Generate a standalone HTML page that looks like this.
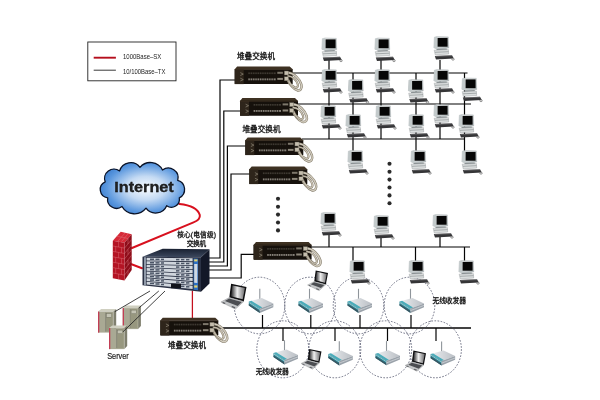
<!DOCTYPE html>
<html lang="zh"><head><meta charset="utf-8"><title>Network topology</title>
<style>
html,body{margin:0;padding:0;background:#fff;}
body{width:600px;height:400px;overflow:hidden;}
svg{display:block;filter:blur(0.38px)}
text{font-family:"Liberation Sans","Noto Sans CJK SC",sans-serif;fill:#222}
.cj{font-size:7.6px;fill:#161616;stroke:#161616;stroke-width:0.3}
.ln{stroke:#050505;stroke-width:1.2;fill:none}
.rd{stroke:#d8101e;stroke-width:2;fill:none;stroke-linecap:round}
.ds{stroke:#4a4e66;stroke-width:0.8;fill:none;stroke-dasharray:1.6 1.5}
</style></head><body>
<svg width="600" height="400" viewBox="0 0 600 400">
<defs>
<linearGradient id="gMon" x1="0" y1="0" x2="1" y2="1"><stop offset="0" stop-color="#f2f4f4"/><stop offset="1" stop-color="#aeb6b8"/></linearGradient>
<radialGradient id="gCloud" cx="0.54" cy="0.5" r="0.58"><stop offset="0" stop-color="#fbfdff"/><stop offset="0.4" stop-color="#c4daf3"/><stop offset="0.8" stop-color="#5a97de"/><stop offset="1" stop-color="#3b7dce"/></radialGradient>
<linearGradient id="gScr" x1="0" y1="0" x2="1" y2="0"><stop offset="0" stop-color="#1c1c1e"/><stop offset="0.45" stop-color="#f0f0f0"/><stop offset="1" stop-color="#6a6a6c"/></linearGradient>
<linearGradient id="gTop" x1="0" y1="0" x2="0" y2="1"><stop offset="0" stop-color="#182030"/><stop offset="1" stop-color="#3c485e"/></linearGradient>
<linearGradient id="gAp" x1="0" y1="0" x2="1" y2="0"><stop offset="0" stop-color="#eef0f2"/><stop offset="1" stop-color="#b9bec4"/></linearGradient>

<g id="pc">
 <path d="M1.4 1.2 L4.4 0.5 L15.3 0.9 L15.7 12 L4.6 13 L0.9 11.8 Z" fill="url(#gMon)" stroke="#959c9e" stroke-width="0.4"/>
 <path d="M1.4 1.2 L4.4 0.5 L4.6 13 L0.9 11.8 Z" fill="#c3cacb"/>
 <rect x="4.6" y="1.9" width="10" height="8.8" fill="#060606"/>
 <path d="M3.4 13 L13.6 12.6 L14 14 L3.8 14.4 Z" fill="#8d9496"/>
 <path d="M1.2 14.2 L15.4 13.6 L15.7 18 L2.2 18.8 Z" fill="#dcdfdf" stroke="#8a9092" stroke-width="0.4"/>
 <path d="M2 16.3 L15.5 15.7" stroke="#7e8486" stroke-width="0.6"/>
 <path d="M1.8 19.9 L19 19.2 L20.8 22.4 L3 23.6 Z" fill="#353537"/>
 <path d="M2.4 20.4 L19 19.7" stroke="#8a8a8c" stroke-width="0.5"/>
 <ellipse cx="20" cy="23.2" rx="1.3" ry="1" fill="#e6e6e6" stroke="#4c4c4c" stroke-width="0.5"/>
</g>

<g id="sw">
 <path d="M0 3.3 L2.4 0.4 L55 0.4 L58 3.3 Z" fill="#3e3122"/>
 <rect x="0" y="3.2" width="58" height="14.9" rx="0.6" fill="#16110c"/>
 <rect x="0" y="3.2" width="9" height="14.9" fill="#2e251b"/>
 <rect x="0" y="3.2" width="58" height="0.8" fill="#3a2e20"/>
 <rect x="13.6" y="6.4" width="27.4" height="1.7" fill="#3f3a33"/>
 <rect x="13.6" y="12.4" width="27.4" height="1.9" fill="#87827a"/>
 <path d="M15.6 5.6V15M17.9 5.6V15M20.2 5.6V15M22.5 5.6V15M24.8 5.6V15M27.1 5.6V15M29.4 5.6V15M31.7 5.6V15M34 5.6V15M36.3 5.6V15M38.6 5.6V15" stroke="#16110c" stroke-width="0.7"/>
 <rect x="42.6" y="5.8" width="5.6" height="2" fill="#7d776b"/>
 <rect x="42.6" y="11.9" width="5.6" height="2" fill="#8d877b"/>
 <path d="M5.6 6.6 l3 1.5 l-3 1.4 M5.6 12.2 l3 1.4 l-3 1.4" stroke="#8c8576" stroke-width="0.7" fill="none"/>
 <g fill="none" stroke-linecap="round">
  <path d="M53 6.6 C59.4 7 64.8 12.8 66.6 18.4 C67.8 22.4 65.6 25.2 62.4 24.2 C58.6 22.8 54.4 18 53 13.6" stroke="#857d6c" stroke-width="2.5"/>
  <path d="M53 6.6 C59.4 7 64.8 12.8 66.6 18.4 C67.8 22.4 65.6 25.2 62.4 24.2 C58.6 22.8 54.4 18 53 13.6" stroke="#d2ccbe" stroke-width="1.4"/>
  <path d="M53.4 10 C57.6 10 61.6 13.8 63 18 C63.9 21 62.2 22.4 59.8 21.3 C57 19.8 54.5 16.5 53.6 14" stroke="#857d6c" stroke-width="2.2"/>
  <path d="M53.4 10 C57.6 10 61.6 13.8 63 18 C63.9 21 62.2 22.4 59.8 21.3 C57 19.8 54.5 16.5 53.6 14" stroke="#cbc4b5" stroke-width="1.1"/>
 </g>
 <rect x="49.6" y="5" width="4.2" height="4" fill="#c4bdad" stroke="#5d574b" stroke-width="0.4"/>
 <rect x="49.6" y="10.8" width="4.2" height="4" fill="#c4bdad" stroke="#5d574b" stroke-width="0.4"/>
</g>

<g id="ap">
 <path d="M11 -9.2 V2" stroke="#8f959b" stroke-width="1.1"/>
 <path d="M0 3.5 L13 0 L24.5 5.5 L11 10.5 Z" fill="url(#gAp)"/>
 <path d="M0 3.5 L2.6 2.8 L13.6 9.6 L11 10.5 Z" fill="#49acba"/>
 <path d="M0 3.5 L11 10.5 L11 15 L0 7.6 Z" fill="#2a8494"/>
 <path d="M0 5.9 L11 13.1 L11 15 L0 7.6 Z" fill="#3b5560"/>
 <path d="M0.4 4.6 L10.8 11.4" stroke="#bfe6ea" stroke-width="0.7"/>
 <path d="M11 10.5 L24.5 5.5 L24.5 9.2 L11 15 Z" fill="#9aa2aa"/>
 <path d="M11 12.6 L24.5 7.4" stroke="#c9ced3" stroke-width="0.9"/>
</g>

<g id="lap">
 <path d="M10.6 0.3 L26 3.5 L23.3 18 L8.8 14 Z" fill="#0e0e10"/>
 <path d="M12 2 L24.4 4.6 L22.2 15.8 L10.4 12.7 Z" fill="url(#gScr)"/>
 <path d="M8.8 14 L23.3 18 L14.9 25.6 L0.4 18.5 Z" fill="#c4c6c8" stroke="#808284" stroke-width="0.4"/>
 <path d="M8.6 15.1 L21.4 18.6 L17.2 22.4 L4.4 17.6 Z" fill="#4c4e52"/>
 <path d="M2.6 18.6 L5.2 19.6 L4.2 20.5 L1.6 19.4 Z M11.8 22.6 L15 23.8 L14 24.8 L10.8 23.5 Z" fill="#5c5e62"/>
</g>

<g id="srv">
 <path d="M0 2.6 L3.2 0 L18.2 0 L15.4 2.6 Z" fill="#cfcfc0"/>
 <path d="M15.4 2.6 L18.2 0 L18.2 20.6 L15.4 23.6 Z" fill="#7f7f6e"/>
 <rect x="0" y="2.6" width="15.4" height="21" fill="#a9a994"/>
 <rect x="0" y="2.6" width="1.3" height="21" fill="#c23e55"/>
 <rect x="7.6" y="3.6" width="7" height="19" fill="#97977f"/>
 <rect x="8.4" y="4.6" width="5.2" height="3.6" fill="#c4c4b4" stroke="#6c6c5c" stroke-width="0.4"/>
 <path d="M7.6 3.6 V22.6" stroke="#77776a" stroke-width="0.5"/>
</g>
</defs>
<rect width="600" height="400" fill="#fff"/>

<rect x="87.8" y="42" width="88.2" height="38.8" fill="#fff" stroke="#222" stroke-width="0.9"/>
<path d="M93.7 57.7 H115.9" stroke="#b50f1d" stroke-width="1.9"/>
<path d="M93.7 70.2 H115.9" stroke="#222" stroke-width="0.9"/>
<text x="123" y="58.9" font-size="6.9" textLength="38.3" lengthAdjust="spacingAndGlyphs">1000Base–SX</text>
<text x="123" y="73.7" font-size="6.9" textLength="42.4" lengthAdjust="spacingAndGlyphs">10/100Base–TX</text>
<g class="ln">
<path d="M292 73 H467.5 M297 104 H471 M302 139 H465 M310 247 H470"/>
<path d="M217 328 H471" style="stroke-width:1.35"/>
<path d="M329 60 V139"/>
<path d="M381 60 V139"/>
<path d="M440 60 V139"/>
<path d="M353 73 V152"/>
<path d="M416 73 V152"/>
<path d="M464.5 73 V152"/>
<path d="M329 234 V247 M381 238 V247 M440 236 V247 M353 247 V262 M415.5 247 V262 M464.5 247 V262"/>
<path d="M262.5 315 V328 M310.8 315 V328 M360 315 V328 M411 315 V328"/>
<path d="M283 328 V341 M335 328 V341 M387.5 328 V341 M436 328 V341"/>
<path d="M235 80 H220 V258 H209"/>
<path d="M241 111 H223.8 V262 H209"/>
<path d="M246 146 H227.4 V266 H209"/>
<path d="M250 174 H231 V270 H209"/>
<path d="M254 254.4 H241.2 V278 H209"/>
</g>
<g class="ds">
<ellipse cx="259.5" cy="305.5" rx="25.3" ry="28.3"/>
<ellipse cx="310" cy="305.5" rx="25.3" ry="28.3"/>
<ellipse cx="358.5" cy="305.5" rx="25.3" ry="28.3"/>
<ellipse cx="409.5" cy="305.5" rx="25.3" ry="28.3"/>
<ellipse cx="282.8" cy="349.3" rx="26" ry="28.5"/>
<ellipse cx="334.8" cy="349.3" rx="26" ry="28.5"/>
<ellipse cx="385.7" cy="349.3" rx="26" ry="28.5"/>
<ellipse cx="435.4" cy="349.3" rx="26" ry="28.5"/>
</g>
<path class="rd" d="M179.5 204 C190 205 198 209 199.8 215 C200.5 219 197 221 193.5 222.4 L132 248"/>
<path class="rd" d="M131.5 264.3 L142 268.2"/>
<path class="rd" d="M192.4 291 V318" style="stroke-width:1.25;stroke:#c4101e"/>
<path d="M105.2 181.8 A9.4 9.4 0 0 1 119.6 170.9 A11.6 11.6 0 0 1 140 167.3 A13.6 13.6 0 0 1 162.5 170 A9.7 9.7 0 0 1 177.7 180.3 A9.4 9.4 0 0 1 179.3 197.8 A8 8 0 0 1 166.7 205.7 A12 12 0 0 1 146 208.2 A14.5 14.5 0 0 1 122 206.5 A9 9 0 0 1 107.7 197.8 A8.4 8.4 0 0 1 105.2 181.8 Z" fill="url(#gCloud)" stroke="#0a1226" stroke-width="1.3" stroke-linejoin="round"/>
<text x="114.2" y="191.7" font-size="15.2" font-weight="bold" fill="#050505" stroke="#050505" stroke-width="0.3" textLength="59.6" lengthAdjust="spacingAndGlyphs">Internet</text>
<g>
<path d="M112.8 240.7 L120.7 231.7 L131.7 234.3 L124.5 242.7 Z" fill="#d62a38"/>
<path d="M124.5 242.7 L131.7 234.3 L131.7 270 L124.5 280.5 Z" fill="#8e0d1a"/>
<path d="M112.8 240.7 L124.5 242.7 L124.5 280.5 L112.8 278.2 Z" fill="#b41424"/>
<g stroke="#e38088" stroke-width="0.4" fill="none">
<path d="M112.8 246 L124.5 248.1 L131.7 239.5 M112.8 251.4 L124.5 253.5 L131.7 244.7 M112.8 256.8 L124.5 258.9 L131.7 249.9 M112.8 262.2 L124.5 264.3 L131.7 255.1 M112.8 267.6 L124.5 269.7 L131.7 260.3 M112.8 273 L124.5 275.1 L131.7 265.5"/>
<path d="M118.6 241.7 V247 M115.7 246.5 V251.9 M121.6 247.6 V253 M118.6 252.4 V257.8 M115.7 257.3 V262.7 M121.6 258.4 V263.8 M118.6 263.2 V268.6 M115.7 268.1 V273.5 M121.6 269.2 V274.6 M118.6 274 V279.4"/>
<path d="M116.7 236.2 L128.1 238.5 M121.5 241.6 L128.8 232.9 M118 241 L125 233"/>
<path d="M128 238.6 V244 M128 249.4 V254.6 M128 260 V265.2 M128 270.4 V275.4"/>
</g></g>
<g>
<path d="M142.5 256.8 L162.7 248.7 L209.5 249.3 L201 257.2 Z" fill="url(#gTop)"/>
<path d="M201 257.2 L209.5 249.3 L209.5 283.5 L201 291.7 Z" fill="#131828"/>
<path d="M142.5 256.8 L201 257.2 L201 291.7 L142.5 285.2 Z" fill="#2a3144"/>
<path d="M144 257.2 L146 257.2 L146 285.6 L144 285.4 Z" fill="#8f99a8"/>
<g fill="#cfd5dc">
<path d="M146.6 257.80 L192.6 258.20 L192.6 261.30 L146.6 260.50 Z"/>
<path d="M146.6 261.22 L192.6 262.15 L192.6 265.25 L146.6 263.92 Z"/>
<path d="M146.6 264.64 L192.6 266.10 L192.6 269.20 L146.6 267.34 Z"/>
<path d="M146.6 268.06 L192.6 270.05 L192.6 273.15 L146.6 270.76 Z"/>
<path d="M146.6 271.48 L192.6 274.00 L192.6 277.10 L146.6 274.18 Z"/>
<path d="M146.6 274.90 L192.6 277.95 L192.6 281.05 L146.6 277.60 Z"/>
<path d="M146.6 278.32 L192.6 281.90 L192.6 285.00 L146.6 281.02 Z"/>
<path d="M146.6 281.74 L192.6 285.85 L192.6 288.95 L146.6 284.44 Z"/>
</g><g fill="#4b5566">
<rect x="150" y="258.54" width="4" height="1.5"/>
<rect x="155.5" y="258.60" width="4" height="1.5"/>
<rect x="161" y="258.66" width="3" height="1.5"/>
<rect x="176" y="258.82" width="3.4" height="1.5"/>
<rect x="181" y="258.87" width="3.4" height="1.5"/>
<rect x="186" y="258.93" width="3.4" height="1.5"/>
<rect x="150" y="262.00" width="4" height="1.5"/>
<rect x="155.5" y="262.12" width="4" height="1.5"/>
<rect x="161" y="262.24" width="3" height="1.5"/>
<rect x="176" y="262.58" width="3.4" height="1.5"/>
<rect x="181" y="262.69" width="3.4" height="1.5"/>
<rect x="186" y="262.80" width="3.4" height="1.5"/>
<rect x="150" y="265.46" width="4" height="1.5"/>
<rect x="155.5" y="265.64" width="4" height="1.5"/>
<rect x="161" y="265.83" width="3" height="1.5"/>
<rect x="176" y="266.34" width="3.4" height="1.5"/>
<rect x="181" y="266.51" width="3.4" height="1.5"/>
<rect x="186" y="266.68" width="3.4" height="1.5"/>
<rect x="150" y="268.91" width="4" height="1.5"/>
<rect x="155.5" y="269.16" width="4" height="1.5"/>
<rect x="161" y="269.41" width="3" height="1.5"/>
<rect x="176" y="270.10" width="3.4" height="1.5"/>
<rect x="181" y="270.32" width="3.4" height="1.5"/>
<rect x="186" y="270.55" width="3.4" height="1.5"/>
<rect x="150" y="272.37" width="4" height="1.5"/>
<rect x="155.5" y="272.69" width="4" height="1.5"/>
<rect x="161" y="273.00" width="3" height="1.5"/>
<rect x="176" y="273.85" width="3.4" height="1.5"/>
<rect x="181" y="274.14" width="3.4" height="1.5"/>
<rect x="186" y="274.42" width="3.4" height="1.5"/>
<rect x="150" y="275.83" width="4" height="1.5"/>
<rect x="155.5" y="276.21" width="4" height="1.5"/>
<rect x="161" y="276.59" width="3" height="1.5"/>
<rect x="176" y="277.61" width="3.4" height="1.5"/>
<rect x="181" y="277.96" width="3.4" height="1.5"/>
<rect x="186" y="278.30" width="3.4" height="1.5"/>
<rect x="150" y="279.29" width="4" height="1.5"/>
<rect x="155.5" y="279.73" width="4" height="1.5"/>
<rect x="161" y="280.17" width="3" height="1.5"/>
<rect x="176" y="281.37" width="3.4" height="1.5"/>
<rect x="181" y="281.77" width="3.4" height="1.5"/>
<rect x="186" y="282.17" width="3.4" height="1.5"/>
<rect x="150" y="282.75" width="4" height="1.5"/>
<rect x="155.5" y="283.25" width="4" height="1.5"/>
<rect x="161" y="283.76" width="3" height="1.5"/>
<rect x="176" y="285.13" width="3.4" height="1.5"/>
<rect x="181" y="285.59" width="3.4" height="1.5"/>
<rect x="186" y="286.05" width="3.4" height="1.5"/>
</g>
<path d="M193.6 258.6 L198 258.7 L198 290.3 L193.6 289.8 Z" fill="#2c6fc4"/>
<path d="M194.2 264 L197.4 264 L197.4 283 L194.2 282.7 Z" fill="#cfd8e2"/>
<rect x="194.2" y="259.4" width="3.2" height="2" fill="#e7d36a"/>
<rect x="194.2" y="285.4" width="3.2" height="2.2" fill="#e7d36a"/>
<rect x="171" y="283.6" width="10" height="4.6" fill="#10131c"/>
</g>
<text class="cj" x="237" y="58.9" textLength="38">堆叠交换机</text>
<text class="cj" x="242.5" y="131.7" textLength="38">堆叠交换机</text>
<text class="cj" x="168" y="347.7" textLength="38">堆叠交换机</text>
<text class="cj" x="177.2" y="236.7" style="font-size:6.7px" textLength="38.8">核心(电信级)</text>
<text class="cj" x="186.7" y="245.9" style="font-size:6.7px" textLength="19.4">交换机</text>
<text class="cj" x="255.8" y="373.6" style="font-size:6.8px" textLength="33">无线收发器</text>
<text class="cj" x="432.5" y="303" style="font-size:6.8px" textLength="33.5">无线收发器</text>
<text x="107.2" y="358.7" font-size="8.4" stroke="#222" stroke-width="0.2" textLength="21.6" lengthAdjust="spacingAndGlyphs">Server</text>
<g fill="#2a2a2a">
<circle cx="278" cy="198.8" r="2.05"/>
<circle cx="278" cy="206.7" r="2.05"/>
<circle cx="278" cy="214.6" r="2.05"/>
<circle cx="278" cy="222.5" r="2.05"/>
<circle cx="278" cy="230.4" r="2.05"/>
<circle cx="389.5" cy="163.8" r="2.05"/>
<circle cx="389.5" cy="171.7" r="2.05"/>
<circle cx="389.5" cy="179.6" r="2.05"/>
<circle cx="389.5" cy="187.5" r="2.05"/>
<circle cx="389.5" cy="195.4" r="2.05"/>
<circle cx="389.5" cy="203.2" r="2.05"/>
</g>
<use href="#sw" x="234.7" y="66"/>
<use href="#sw" x="240" y="97.6"/>
<use href="#sw" x="245.3" y="137"/>
<use href="#sw" x="249.3" y="166"/>
<use href="#sw" x="253.6" y="241.6"/>
<use href="#sw" x="160.3" y="317.3"/>
<use href="#srv" x="98" y="309"/>
<use href="#srv" x="122.7" y="305.5"/>
<use href="#srv" x="109" y="325.5"/>
<path d="M150 291 L115 311.6 M158.8 291 L138.8 308 M165 291 L123 331.8" stroke="#222" stroke-width="0.85" fill="none"/>
<use href="#pc" x="321" y="37.5"/>
<use href="#pc" x="374" y="37.5"/>
<use href="#pc" x="433" y="36"/>
<use href="#pc" x="321" y="69"/>
<use href="#pc" x="374" y="69"/>
<use href="#pc" x="433" y="69"/>
<use href="#pc" x="347.5" y="79"/>
<use href="#pc" x="407.5" y="79"/>
<use href="#pc" x="461" y="77.5"/>
<use href="#pc" x="320" y="105"/>
<use href="#pc" x="375" y="105"/>
<use href="#pc" x="433" y="104"/>
<use href="#pc" x="345" y="114"/>
<use href="#pc" x="408" y="114"/>
<use href="#pc" x="458" y="114"/>
<use href="#pc" x="347" y="150"/>
<use href="#pc" x="410" y="150"/>
<use href="#pc" x="461" y="150"/>
<use href="#pc" x="320" y="212"/>
<use href="#pc" x="373" y="215"/>
<use href="#pc" x="432" y="214"/>
<use href="#pc" x="349" y="260"/>
<use href="#pc" x="408" y="260"/>
<use href="#pc" x="458" y="260"/>
<use href="#ap" x="248.8" y="298"/>
<use href="#ap" x="298.5" y="298"/>
<use href="#ap" x="347.5" y="298"/>
<use href="#ap" x="399.5" y="298"/>
<use href="#ap" x="273.5" y="349.5"/>
<use href="#ap" x="328.3" y="350.5"/>
<use href="#ap" x="375.5" y="350.3"/>
<use href="#ap" x="430.6" y="350.6"/>
<use href="#lap" transform="translate(220.5 283.5) scale(1.0)"/>
<use href="#lap" transform="translate(307.2 270.2) scale(0.8)"/>
<use href="#lap" transform="translate(300.7 348.7) scale(0.8)"/>
<use href="#lap" transform="translate(404.7 350.3) scale(0.82)"/>
</svg></body></html>
